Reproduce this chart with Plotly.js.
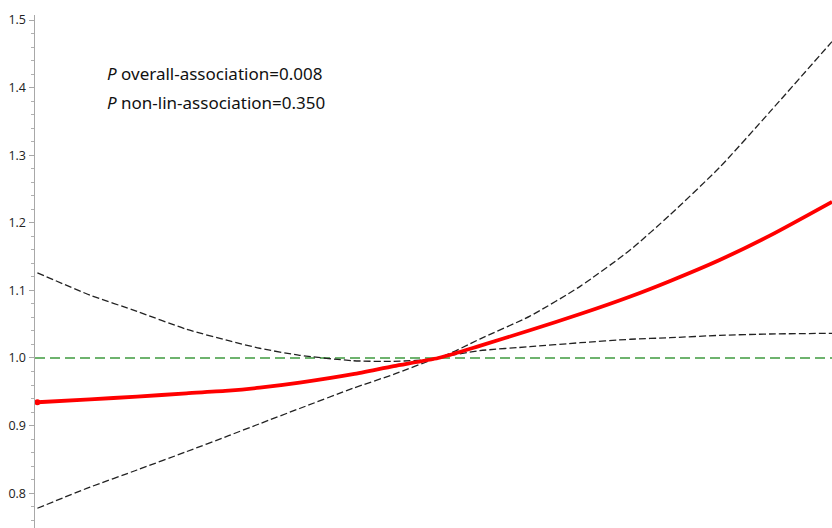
<!DOCTYPE html>
<html>
<head>
<meta charset="utf-8">
<script src="https://cdn.plot.ly/plotly-3.0.1.min.js"></script>
<style>html,body{margin:0;padding:0;background:#fff}#chart{width:832px;height:528px}</style>
</head>
<body>
<div id="chart"></div>
<script>
// Exposure grid (arbitrary units, axis not labelled in the source)
const exposure = [0.3, 6.9, 12.8, 19.0, 24.3, 28.2, 33.2, 39.9, 45.0, 50.6, 55.8, 62.1, 68.4, 74.7, 79.7, 85.9, 92.2, 100];
// Estimated odds ratio (red)
const estimate = [0.9345, 0.9389, 0.9428, 0.9478, 0.9516, 0.956, 0.9635, 0.976, 0.988, 1.0, 1.018, 1.041, 1.065, 1.091, 1.114, 1.145, 1.181, 1.231];
// 95% CI bounds (black dashed)
const upperCI = [1.126, 1.093, 1.069, 1.0425, 1.0256, 1.0144, 1.004, 0.996, 0.995, 1.0, 1.028, 1.062, 1.106, 1.160, 1.212, 1.282, 1.364, 1.468];
const lowerCI = [0.7777, 0.809, 0.8343, 0.8614, 0.8851, 0.9028, 0.9253, 0.9552, 0.9758, 1.0, 1.0108, 1.0167, 1.0226, 1.0277, 1.0300, 1.0335, 1.0355, 1.0365];
// Reference line
const refX = [0, 100];
const refY = [1, 1];
const yTicks = [0.8, 0.9, 1.0, 1.1, 1.2, 1.3, 1.4, 1.5];
const yTickLabels = ['0.8', '0.9', '1.0', '1.1', '1.2', '1.3', '1.4', '1.5'];
const pLines = ['<i>P</i> overall-association=0.008', '<i>P</i> non-lin-association=0.350'];

const traces = [
  {x: refX, y: refY, mode: 'lines', line: {color: '#3f9b3f', width: 1.6, dash: '10px,5px'}, hoverinfo: 'skip'},
  {x: exposure, y: upperCI, mode: 'lines', line: {color: '#222', width: 1.3, dash: '7px,3px', shape: 'spline', smoothing: 0.6}},
  {x: exposure, y: lowerCI, mode: 'lines', line: {color: '#222', width: 1.3, dash: '7px,3px', shape: 'spline', smoothing: 0.6}},
  {x: exposure, y: estimate, mode: 'lines', line: {color: '#ff0000', width: 3.8, shape: 'spline', smoothing: 0.6}},
  {x: [exposure[0]], y: [estimate[0]], mode: 'markers', marker: {color: '#ff0000', size: 6}}
];

const layout = {
  width: 832, height: 528,
  margin: {l: 35, r: 0, t: 15, b: 0},
  paper_bgcolor: '#fff', plot_bgcolor: '#fff',
  showlegend: false,
  xaxis: {range: [0, 100], showline: false, showgrid: false, zeroline: false, showticklabels: false, ticks: ''},
  yaxis: {
    range: [0.7485, 1.5074], showgrid: false, zeroline: false,
    showline: true, linecolor: '#a8a8a8', linewidth: 1.5,
    ticks: 'outside', ticklen: 5, tickcolor: '#a8a8a8', tickwidth: 1,
    tickvals: yTicks, ticktext: yTickLabels,
    tickfont: {family: 'Open Sans, DejaVu Sans, sans-serif', size: 12.5, color: '#222'},
    minor: {dtick: 0.02, ticks: 'outside', ticklen: 3, tickcolor: '#b0b0b0', tickwidth: 1, showgrid: false}
  },
  annotations: [
    {xref: 'paper', yref: 'paper', x: 0.0878, y: 0.885, xanchor: 'left', yanchor: 'middle', showarrow: false,
     text: pLines[0], font: {family: 'Noto Sans, Open Sans, sans-serif', size: 17, color: '#111'}},
    {xref: 'paper', yref: 'paper', x: 0.0878, y: 0.8285, xanchor: 'left', yanchor: 'middle', showarrow: false,
     text: pLines[1], font: {family: 'Noto Sans, Open Sans, sans-serif', size: 17, color: '#111'}}
  ]
};

Plotly.newPlot('chart', traces, layout, {displayModeBar: false, staticPlot: true});
</script>
</body>
</html>
